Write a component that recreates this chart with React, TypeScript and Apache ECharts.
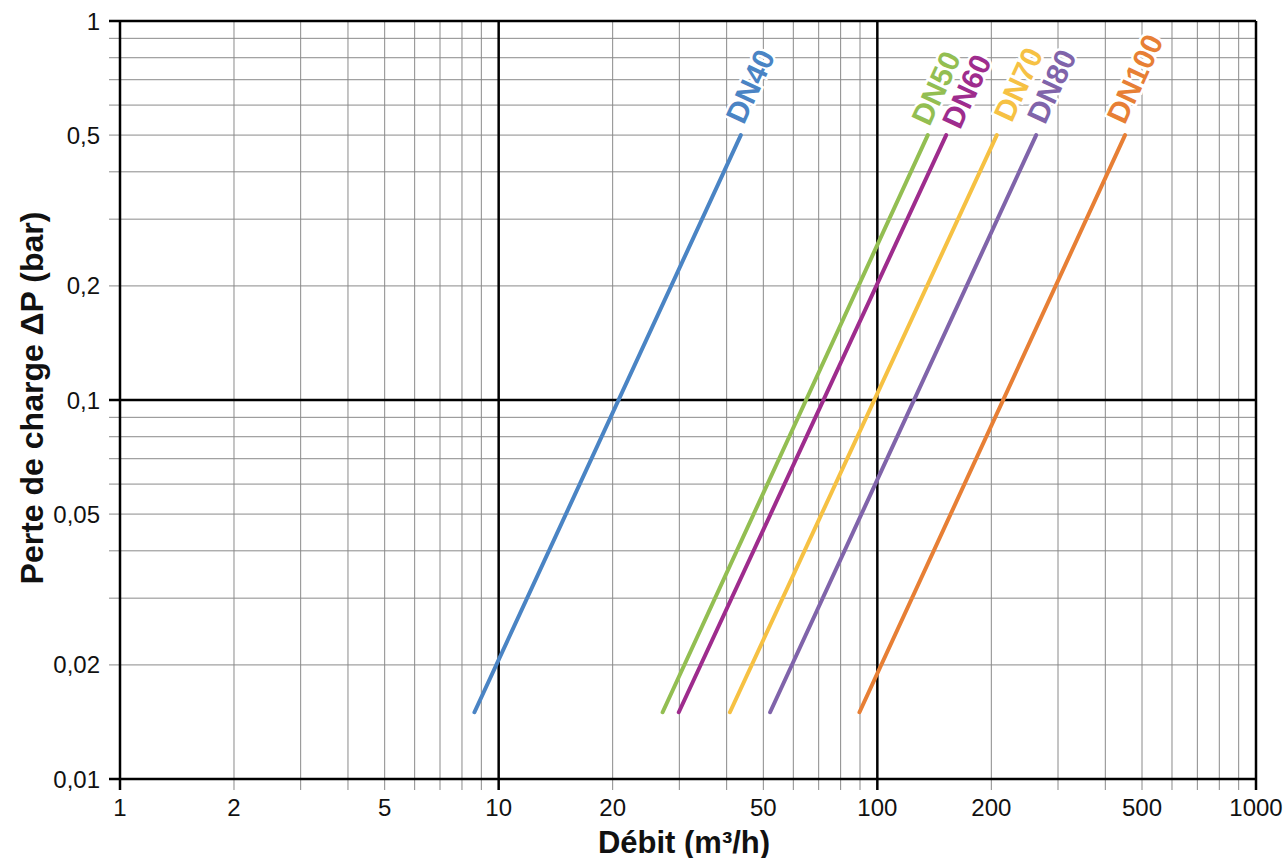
import React, { useEffect, useRef } from "react";
import * as echarts from "echarts";

// ---- Data ----
const seriesNames = ["DN40", "DN50", "DN60", "DN70", "DN80", "DN100"];
const seriesColors = ["#4a84c4", "#93be52", "#9e2c8d", "#f6c143", "#8064aa", "#e77f35"];
const flowStart = [8.63, 27.1, 29.9, 40.8, 52.1, 89.7];
const flowEnd = [43.6, 135.9, 152, 206.8, 262.7, 451];
const dpStart = [0.015, 0.015, 0.015, 0.015, 0.015, 0.015];
const dpEnd = [0.5, 0.5, 0.5, 0.5, 0.5, 0.5];

const xTickLabels = [1, 2, 5, 10, 20, 50, 100, 200, 500, 1000];
const yTickLabels = [1, 0.5, 0.2, 0.1, 0.05, 0.02, 0.01];
const xMinorGrid = [2, 3, 4, 5, 6, 7, 8, 9, 20, 30, 40, 50, 60, 70, 80, 90, 200, 300, 400, 500, 600, 700, 800, 900];
const xMajorGrid = [1, 10, 100, 1000];
const yMinorGrid = [0.02, 0.03, 0.04, 0.05, 0.06, 0.07, 0.08, 0.09, 0.2, 0.3, 0.4, 0.5, 0.6, 0.7, 0.8, 0.9];
const yMajorGrid = [0.01, 0.1, 1];

// ---- Layout (label nudges in pixels, not data) ----
const LABEL_NUDGE_X = [0, -1, 11, 12, 6, -3];
const LABEL_NUDGE_Y = [0, 2, 5, -2, 0, 0];

const X_MIN = 1;
const X_MAX = 1000;
const Y_MIN = 0.01;
const Y_MAX = 1;

const FONT = '"Liberation Sans", Arial, Helvetica, sans-serif';
const TICK_LEN = 11;
const LABEL_ALONG = 10;
const LABEL_PERP = 12;

function fmtY(v: number) {
  return String(v).replace(".", ",");
}

export default function App() {
  const ref = useRef<HTMLDivElement>(null);

  useEffect(() => {
    if (!ref.current) return;
    const chart = echarts.init(ref.current, undefined, { renderer: "svg" });

    const xGridData = [
      ...xMinorGrid.map((v) => [v, Y_MIN, 0]),
      ...xMajorGrid.map((v) => [v, Y_MIN, 1]),
    ];
    const yGridData = [
      ...yMinorGrid.map((v) => [X_MIN, v, 0]),
      ...yMajorGrid.map((v) => [X_MIN, v, 1]),
    ];

    const lineSeries = seriesNames.map((name, i) => ({
      type: "line",
      name,
      data: [
        [flowStart[i], dpStart[i]],
        [flowEnd[i], dpEnd[i]],
      ],
      symbol: "none",
      showSymbol: false,
      silent: true,
      z: 3,
      lineStyle: { color: seriesColors[i], width: 4, cap: "round" },
    }));

    const option: any = {
      animation: false,
      backgroundColor: "#ffffff",
      grid: { left: 120, right: 31, top: 21, bottom: 79, containLabel: false },
      xAxis: {
        type: "log",
        logBase: 10,
        min: X_MIN,
        max: X_MAX,
        axisLine: { show: false },
        axisTick: { show: false },
        axisLabel: { show: false },
        splitLine: { show: false },
      },
      yAxis: {
        type: "log",
        logBase: 10,
        min: Y_MIN,
        max: Y_MAX,
        axisLine: { show: false },
        axisTick: { show: false },
        axisLabel: { show: false },
        splitLine: { show: false },
      },
      graphic: [
        {
          type: "text",
          x: 684,
          y: 842,
          style: {
            text: "Débit (m³/h)",
            font: `bold 31px ${FONT}`,
            fill: "#111",
            textAlign: "center",
            textVerticalAlign: "middle",
            align: "center",
            verticalAlign: "middle",
          },
        },
        {
          type: "text",
          x: 32,
          y: 398,
          rotation: Math.PI / 2,
          style: {
            text: "Perte de charge ΔP (bar)",
            font: `bold 32px ${FONT}`,
            fill: "#111",
            textAlign: "center",
            textVerticalAlign: "middle",
            align: "center",
            verticalAlign: "middle",
          },
        },
      ],
      series: [
        {
          type: "custom",
          silent: true,
          z: 1,
          data: xGridData,
          renderItem: (_p: any, api: any) => {
            const v = api.value(0);
            const major = api.value(2) === 1;
            const b = api.coord([v, Y_MIN]);
            const t = api.coord([v, Y_MAX]);
            return {
              type: "line",
              z2: major ? 2 : 1,
              shape: { x1: b[0], y1: b[1] + TICK_LEN, x2: t[0], y2: t[1] },
              style: { stroke: major ? "#000" : "#8a8a8a", lineWidth: major ? 2.5 : 1 },
            };
          },
        },
        {
          type: "custom",
          silent: true,
          z: 1,
          data: yGridData,
          renderItem: (_p: any, api: any) => {
            const v = api.value(1);
            const major = api.value(2) === 1;
            const l = api.coord([X_MIN, v]);
            const r = api.coord([X_MAX, v]);
            return {
              type: "line",
              z2: major ? 2 : 1,
              shape: { x1: l[0] - TICK_LEN, y1: l[1], x2: r[0], y2: r[1] },
              style: { stroke: major ? "#000" : "#8a8a8a", lineWidth: major ? 2.5 : 1 },
            };
          },
        },
        {
          type: "custom",
          silent: true,
          z: 4,
          data: xTickLabels.map((v) => [v, Y_MIN]),
          renderItem: (_p: any, api: any) => {
            const v = api.value(0);
            const c = api.coord([v, Y_MIN]);
            return {
              type: "text",
              x: c[0],
              y: c[1] + 16,
              style: {
                text: String(v),
                font: `24px ${FONT}`,
                fill: "#111",
                textAlign: "center",
                textVerticalAlign: "top",
                align: "center",
                verticalAlign: "top",
              },
            };
          },
        },
        {
          type: "custom",
          silent: true,
          z: 4,
          data: yTickLabels.map((v) => [X_MIN, v]),
          renderItem: (_p: any, api: any) => {
            const v = api.value(1);
            const c = api.coord([X_MIN, v]);
            return {
              type: "text",
              x: c[0] - 20,
              y: c[1],
              style: {
                text: fmtY(v),
                font: `24px ${FONT}`,
                fill: "#111",
                textAlign: "right",
                textVerticalAlign: "middle",
                align: "right",
                verticalAlign: "middle",
              },
            };
          },
        },
        ...lineSeries,
        {
          type: "custom",
          silent: true,
          z: 6,
          data: seriesNames.map((_n, i) => [flowEnd[i], dpEnd[i], flowStart[i], dpStart[i], i]),
          renderItem: (_p: any, api: any) => {
            const i = api.value(4);
            const p1 = api.coord([api.value(0), api.value(1)]);
            const p0 = api.coord([api.value(2), api.value(3)]);
            const dx = p1[0] - p0[0];
            const dy = p1[1] - p0[1];
            const len = Math.hypot(dx, dy);
            const ux = dx / len;
            const uy = dy / len;
            const nx = uy;
            const ny = -ux;
            return {
              type: "text",
              x: p1[0] + ux * LABEL_ALONG + nx * LABEL_PERP + LABEL_NUDGE_X[i],
              y: p1[1] + uy * LABEL_ALONG + ny * LABEL_PERP + LABEL_NUDGE_Y[i],
              rotation: Math.atan2(-dy, dx),
              style: {
                text: seriesNames[i],
                font: `bold 30px ${FONT}`,
                fill: seriesColors[i],
                stroke: "#ffffff",
                lineWidth: 5,
                textAlign: "left",
                textVerticalAlign: "middle",
                align: "left",
                verticalAlign: "middle",
              },
            };
          },
        },
      ],
    };

    chart.setOption(option);
    return () => chart.dispose();
  }, []);

  return (
    <div
      ref={ref}
      style={{ position: "absolute", left: 0, top: 0, width: 1287, height: 858 }}
    />
  );
}
